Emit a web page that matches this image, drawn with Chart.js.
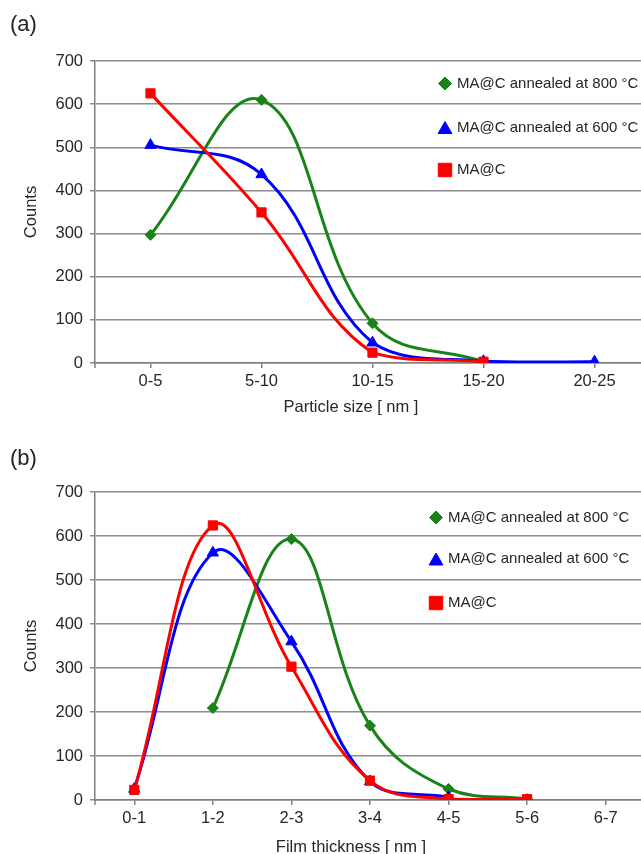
<!DOCTYPE html>
<html>
<head>
<meta charset="utf-8">
<script src="https://cdn.jsdelivr.net/npm/chart.js@4.4.1/dist/chart.umd.min.js"></script>
<style>
  html, body { margin: 0; padding: 0; background: #fff; overflow: hidden; width: 641px; height: 854px; }
  .panel { position: absolute; left: 0; }
  .tag { position: absolute; left: 10px; font: 22px "Liberation Sans", Arial, sans-serif; line-height: 22px; color: #222; }
</style>
</head>
<body>
<div class="panel" style="top:0"><canvas id="chartA" width="660" height="420"></canvas></div>
<div class="panel" style="top:420px"><canvas id="chartB" width="660" height="434"></canvas></div>
<div class="tag" style="top:13px">(a)</div>
<div class="tag" style="top:447px">(b)</div>

<script>
// Panel (a): particle size distribution
const sizeLabels = ["0-5", "5-10", "10-15", "15-20", "20-25"];
const size800 = [297, 610, 92, 3, null];
const size600 = [505, 437, 47, 4, 3];
const sizeRaw = [625, 349, 24, 3, null];

// Panel (b): film thickness distribution
const thickLabels = ["0-1", "1-2", "2-3", "3-4", "4-5", "5-6", "6-7"];
const thick800 = [null, 209, 593, 169, 25, 2, null];
const thick600 = [25, 562, 360, 42, 6, null, null];
const thickRaw = [23, 624, 303, 44, 2, 2, null];

const seriesNames = ["MA@C annealed at 800 °C", "MA@C annealed at 600 °C", "MA@C"];
const countTicks = [0, 100, 200, 300, 400, 500, 600, 700];

const GREEN = "#198219";
const BLUE = "#0000ff";
const RED = "#ff0000";
const GRID = "#8c8c8c";
const AXIS = "#808080";
const TEXT = "#262626";
const FONT = '"Liberation Sans", Arial, sans-serif';

Chart.defaults.font.family = FONT;
Chart.defaults.color = TEXT;

// legend marker sizes (bigger than the ones on the lines)
const legendRadius = [6.5, 8, 9.5];

function makeDatasets(v800, v600, vRaw) {
  const common = { borderWidth: 3, tension: 0.4, pointBorderWidth: 1, fill: false, spanGaps: false };
  return [
    { ...common, label: seriesNames[0], data: v800, borderColor: GREEN, backgroundColor: GREEN,
      pointStyle: "rectRot", pointRadius: 5.5, order: 3 },
    { ...common, label: seriesNames[1], data: v600, borderColor: BLUE, backgroundColor: BLUE,
      pointStyle: "triangle", pointRadius: 6.5, order: 2 },
    { ...common, label: seriesNames[2], data: vRaw, borderColor: RED, backgroundColor: RED,
      pointStyle: "rect", pointRadius: 6.5, order: 1 }
  ];
}

// draws the side legend, the x caption and the little tick under the y axis
const extras = {
  id: "extras",
  afterDraw(chart, args, opts) {
    const ctx = chart.ctx;
    const area = chart.chartArea;
    ctx.save();
    ctx.strokeStyle = AXIS;
    ctx.lineWidth = 1.5;
    ctx.beginPath();
    ctx.moveTo(area.left, area.bottom);
    ctx.lineTo(area.left, area.bottom + 5);
    ctx.stroke();

    ctx.fillStyle = TEXT;
    ctx.font = "16.5px " + FONT;
    ctx.textAlign = "center";
    ctx.textBaseline = "middle";
    ctx.fillText(opts.caption, opts.captionX, opts.captionY);

    chart.data.datasets.forEach((ds, i) => {
      const y = opts.legendY[i];
      ctx.fillStyle = ds.borderColor;
      ctx.strokeStyle = ds.borderColor;
      ctx.lineWidth = 1;
      const py = ds.pointStyle === "triangle" ? y + 2 : y;
      Chart.helpers.drawPoint(ctx, { pointStyle: ds.pointStyle, rotation: 0, radius: legendRadius[i], borderWidth: 1 }, opts.legendX, py);
      ctx.fillStyle = TEXT;
      ctx.font = "15px " + FONT;
      ctx.textAlign = "left";
      ctx.fillText(ds.label, opts.textX, y);
    });
    ctx.restore();
  }
};

function makeOptions(cfg) {
  return {
    responsive: false,
    animation: false,
    layout: { padding: { top: cfg.top, right: cfg.right, bottom: 0, left: 0 } },
    plugins: {
      legend: { display: false },
      tooltip: { enabled: false },
      extras: cfg.extras
    },
    scales: {
      x: {
        offset: true,
        grid: { drawOnChartArea: false, drawTicks: true, tickLength: 5, color: AXIS, lineWidth: 1.5, offset: false },
        border: { color: AXIS, width: 1.5 },
        ticks: { color: TEXT, font: { size: 16.5 }, padding: 4, autoSkip: false, maxRotation: 0 },
        afterFit(scale) { scale.height = cfg.xHeight; }
      },
      y: {
        min: 0,
        max: 700,
        afterBuildTicks(scale) { scale.ticks = countTicks.map(v => ({ value: v })); },
        grid: { color: GRID, lineWidth: 1.5, tickLength: 5 },
        border: { color: AXIS, width: 1.5 },
        ticks: { color: TEXT, font: { size: 16.5 }, padding: 7 },
        title: { display: true, text: "Counts", color: TEXT, font: { size: 16.5 }, padding: { top: 22, bottom: 0 } },
        afterFit(scale) { scale.width = 95; }
      }
    }
  };
}

new Chart(document.getElementById("chartA"), {
  type: "line",
  data: { labels: sizeLabels, datasets: makeDatasets(size800, size600, sizeRaw) },
  options: makeOptions({
    top: 61, right: 10, xHeight: 57,
    extras: { caption: "Particle size [ nm ]", captionX: 351, captionY: 407,
              legendX: 445, textX: 457, legendY: [83.5, 127.5, 170] }
  }),
  plugins: [extras]
});

new Chart(document.getElementById("chartB"), {
  type: "line",
  data: { labels: thickLabels, datasets: makeDatasets(thick800, thick600, thickRaw) },
  options: makeOptions({
    top: 72, right: 15, xHeight: 54,
    extras: { caption: "Film thickness [ nm ]", captionX: 351, captionY: 427,
              legendX: 436, textX: 448, legendY: [97.5, 139, 183] }
  }),
  plugins: [extras]
});
</script>
</body>
</html>
